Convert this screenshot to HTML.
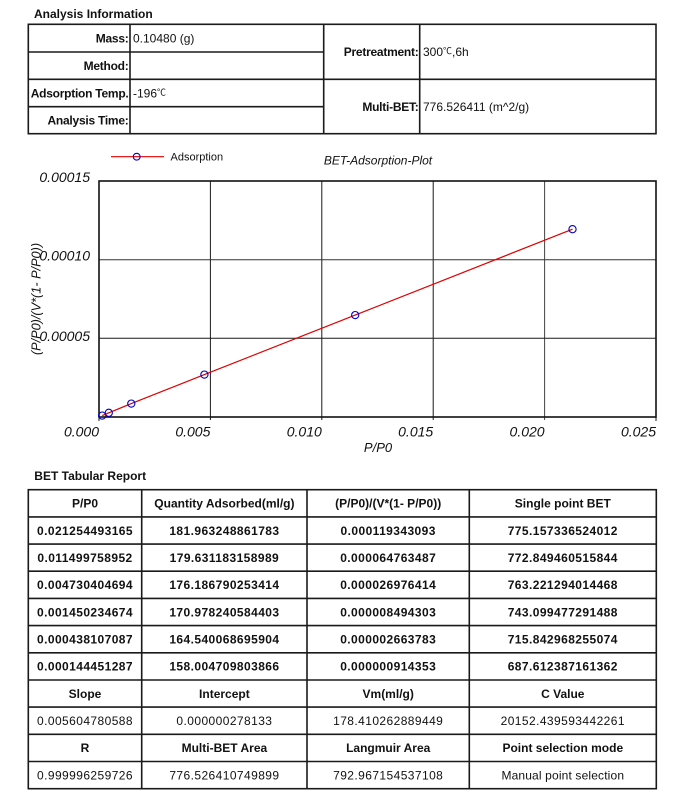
<!DOCTYPE html>
<html><head><meta charset="utf-8"><style>
html,body{margin:0;padding:0;background:#fff;}
svg{display:block;}
text{font-family:"Liberation Sans",Arial,"Noto Sans CJK SC",sans-serif;fill:#111;}
.b{font-weight:bold;font-size:12px;}
.r{font-size:12px;}
.n{letter-spacing:0.42px;}
.t{font-style:italic;font-size:14px;}
</style></head><body>
<svg width="685" height="808" viewBox="0 0 685 808" xmlns="http://www.w3.org/2000/svg">
<!-- Analysis Information -->
<text class="b" x="34" y="18">Analysis Information</text>
<g stroke="#1a1a1a" stroke-width="1.6" fill="none">
<rect x="28.3" y="24.3" width="627.7" height="109.4"/>
<line x1="130" y1="24.3" x2="130" y2="133.7"/>
<line x1="323.7" y1="24.3" x2="323.7" y2="133.7"/>
<line x1="419.7" y1="24.3" x2="419.7" y2="133.7"/>
<line x1="28.3" y1="52" x2="323.7" y2="52"/>
<line x1="28.3" y1="106.7" x2="323.7" y2="106.7"/>
<line x1="28.3" y1="79.3" x2="656" y2="79.3"/>
</g>
<g class="b" text-anchor="end" letter-spacing="-0.25">
<text class="b" x="128.5" y="42.3">Mass:</text>
<text class="b" x="128.5" y="70">Method:</text>
<text class="b" x="128.5" y="97.3">Adsorption Temp.</text>
<text class="b" x="128.5" y="124.5">Analysis Time:</text>
<text class="b" x="418.5" y="56">Pretreatment:</text>
<text class="b" x="418.5" y="111">Multi-BET:</text>
</g>
<text class="r" x="133" y="42.3">0.10480 (g)</text>
<text class="r" x="133" y="97.3">-196<tspan font-size="9" dy="-2">℃</tspan></text>
<text class="r" x="423" y="56">300<tspan font-size="9" dy="-2">℃</tspan><tspan dy="2">,6h</tspan></text>
<text class="r" x="423" y="111">776.526411 (m^2/g)</text>

<!-- Chart legend and title -->
<line x1="111" y1="156.7" x2="164" y2="156.7" stroke="#e00000" stroke-width="1.2"/>
<circle cx="136.7" cy="156.7" r="3.4" fill="none" stroke="#0000cc" stroke-width="1.1"/>
<text x="170.5" y="160.5" font-size="11">Adsorption</text>
<text x="378" y="164.5" font-size="12" font-style="italic" text-anchor="middle">BET-Adsorption-Plot</text>

<!-- grid -->
<g stroke="#1a1a1a" stroke-width="1">
<line x1="210.4" y1="181" x2="210.4" y2="420"/>
<line x1="321.8" y1="181" x2="321.8" y2="420"/>
<line x1="433.2" y1="181" x2="433.2" y2="420"/>
<line x1="544.6" y1="181" x2="544.6" y2="420" stroke="#444"/>
<line x1="99" y1="259.7" x2="656" y2="259.7" stroke="#333"/>
<line x1="99" y1="338.3" x2="656" y2="338.3"/>
<line x1="99" y1="417" x2="99" y2="421"/>
<line x1="656" y1="417" x2="656" y2="421"/>
</g>
<rect x="99" y="181" width="557" height="236" fill="none" stroke="#111" stroke-width="1.6"/>

<!-- tick labels -->
<g class="t" text-anchor="end">
<text class="t" x="90" y="182">0.00015</text>
<text class="t" x="90" y="260.5">0.00010</text>
<text class="t" x="90" y="341">0.00005</text>
<text class="t" x="99" y="436.7">0.000</text>
<text class="t" x="210.4" y="436.7">0.005</text>
<text class="t" x="321.8" y="436.7">0.010</text>
<text class="t" x="433.2" y="436.7">0.015</text>
<text class="t" x="544.6" y="436.7">0.020</text>
<text class="t" x="656" y="436.7">0.025</text>
</g>
<text x="378" y="452" font-size="13" font-style="italic" text-anchor="middle">P/P0</text>
<text transform="translate(40.5,299) rotate(-90)" font-size="12.7" font-style="italic" text-anchor="middle">(P/P0)/(V*(1- P/P0))</text>

<!-- series -->
<polyline fill="none" stroke="#e00000" stroke-width="1.2" points="102.2,415.6 108.8,412.8 131.3,403.6 204.4,374.6 355.2,315.1 572.5,229.2"/>
<g fill="none" stroke="#0000cc" stroke-width="1.1">
<circle cx="102.2" cy="415.6" r="3.6"/>
<circle cx="108.8" cy="412.8" r="3.6"/>
<circle cx="131.3" cy="403.6" r="3.6"/>
<circle cx="204.4" cy="374.6" r="3.6"/>
<circle cx="355.2" cy="315.1" r="3.6"/>
<circle cx="572.5" cy="229.2" r="3.6"/>
</g>

<!-- BET Tabular Report -->
<text class="b" x="34.3" y="480">BET Tabular Report</text>
<g stroke="#1a1a1a" stroke-width="1.6" fill="none">
<rect x="28.3" y="489.7" width="628" height="299"/>
<line x1="141.7" y1="489.7" x2="141.7" y2="788.7"/>
<line x1="307" y1="489.7" x2="307" y2="788.7"/>
<line x1="469.3" y1="489.7" x2="469.3" y2="788.7"/>
<line x1="28.3" y1="516.9" x2="656.3" y2="516.9"/>
<line x1="28.3" y1="544.1" x2="656.3" y2="544.1"/>
<line x1="28.3" y1="571.2" x2="656.3" y2="571.2"/>
<line x1="28.3" y1="598.4" x2="656.3" y2="598.4"/>
<line x1="28.3" y1="625.6" x2="656.3" y2="625.6"/>
<line x1="28.3" y1="652.8" x2="656.3" y2="652.8"/>
<line x1="28.3" y1="680" x2="656.3" y2="680"/>
<line x1="28.3" y1="707.1" x2="656.3" y2="707.1"/>
<line x1="28.3" y1="734.3" x2="656.3" y2="734.3"/>
<line x1="28.3" y1="761.5" x2="656.3" y2="761.5"/>
</g>
<g text-anchor="middle">
<text class="b" x="85" y="507.6">P/P0</text>
<text class="b" x="224.4" y="507.6">Quantity Adsorbed(ml/g)</text>
<text class="b" x="388.2" y="507.6">(P/P0)/(V*(1- P/P0))</text>
<text class="b" x="562.8" y="507.6">Single point BET</text>

<text class="b n" x="85" y="534.8">0.021254493165</text>
<text class="b n" x="224.4" y="534.8">181.963248861783</text>
<text class="b n" x="388.2" y="534.8">0.000119343093</text>
<text class="b n" x="562.8" y="534.8">775.157336524012</text>

<text class="b n" x="85" y="562">0.011499758952</text>
<text class="b n" x="224.4" y="562">179.631183158989</text>
<text class="b n" x="388.2" y="562">0.000064763487</text>
<text class="b n" x="562.8" y="562">772.849460515844</text>

<text class="b n" x="85" y="589.1">0.004730404694</text>
<text class="b n" x="224.4" y="589.1">176.186790253414</text>
<text class="b n" x="388.2" y="589.1">0.000026976414</text>
<text class="b n" x="562.8" y="589.1">763.221294014468</text>

<text class="b n" x="85" y="616.3">0.001450234674</text>
<text class="b n" x="224.4" y="616.3">170.978240584403</text>
<text class="b n" x="388.2" y="616.3">0.000008494303</text>
<text class="b n" x="562.8" y="616.3">743.099477291488</text>

<text class="b n" x="85" y="643.5">0.000438107087</text>
<text class="b n" x="224.4" y="643.5">164.540068695904</text>
<text class="b n" x="388.2" y="643.5">0.000002663783</text>
<text class="b n" x="562.8" y="643.5">715.842968255074</text>

<text class="b n" x="85" y="670.7">0.000144451287</text>
<text class="b n" x="224.4" y="670.7">158.004709803866</text>
<text class="b n" x="388.2" y="670.7">0.000000914353</text>
<text class="b n" x="562.8" y="670.7">687.612387161362</text>

<text class="b" x="85" y="697.9">Slope</text>
<text class="b" x="224.4" y="697.9">Intercept</text>
<text class="b" x="388.2" y="697.9">Vm(ml/g)</text>
<text class="b" x="562.8" y="697.9">C Value</text>

<text class="r n" x="85" y="725">0.005604780588</text>
<text class="r n" x="224.4" y="725">0.000000278133</text>
<text class="r n" x="388.2" y="725">178.410262889449</text>
<text class="r n" x="562.8" y="725">20152.439593442261</text>

<text class="b" x="85" y="752.2">R</text>
<text class="b" x="224.4" y="752.2">Multi-BET Area</text>
<text class="b" x="388.2" y="752.2">Langmuir Area</text>
<text class="b" x="562.8" y="752.2">Point selection mode</text>

<text class="r n" x="85" y="779.4">0.999996259726</text>
<text class="r n" x="224.4" y="779.4">776.526410749899</text>
<text class="r n" x="388.2" y="779.4">792.967154537108</text>
<text class="r" x="562.8" y="779.4" letter-spacing="0.15">Manual point selection</text>
</g>
</svg>
</body></html>
